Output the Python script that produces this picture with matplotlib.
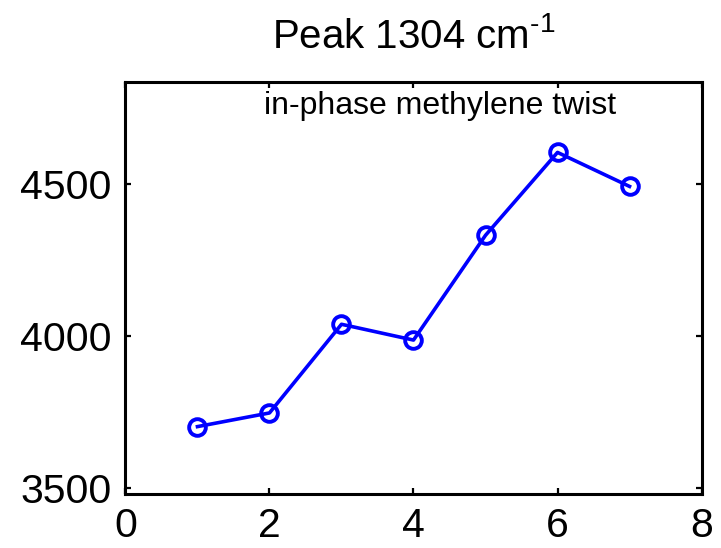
import matplotlib
matplotlib.use('Agg')
import matplotlib.pyplot as plt

plt.rcParams['font.family'] = ['Liberation Sans', 'DejaVu Sans']

# data
x_vals = [1, 2, 3, 4, 5, 6, 7]
peak_area = [3702, 3747, 4039, 3987, 4332, 4605, 4493]
x_ticks = [0, 2, 4, 6, 8]
y_ticks = [3500, 4000, 4500]

fig = plt.figure(figsize=(7.21, 5.48), dpi=100)
ax = fig.add_axes([0.174, 0.0985, 0.799, 0.7525])

ax.plot(x_vals, peak_area, '-o', color='#0000ff', linewidth=2.6,
        markersize=12, markerfacecolor='none', markeredgewidth=2.8)

ax.set_xlim(0, 8)
ax.set_ylim(3480, 4838)
ax.set_xticks(x_ticks)
ax.set_yticks(y_ticks)
ax.tick_params(direction='in', length=4.5, width=1.6, labelsize=29.5,
               top=True, right=True)
ax.tick_params(axis='x', pad=9)
ax.tick_params(axis='y', pad=10)
for s in ax.spines.values():
    s.set_linewidth(2.2)

ax.set_title('Peak 1304 cm$^{\\mathregular{\u2010\u20091}}$'.replace('\u2009', ''),
             fontsize=29, pad=24)
ax.text(4.37, 4733, 'in-phase methylene twist', ha='center', va='baseline',
        fontsize=23)

plt.savefig('out.png', dpi=100)
